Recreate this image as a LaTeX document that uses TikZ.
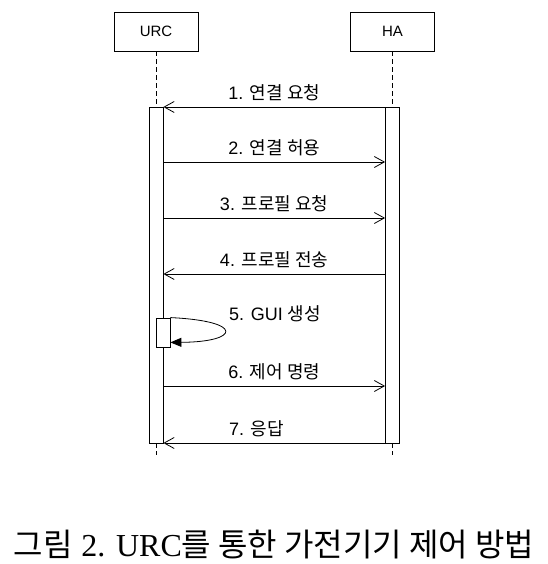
\documentclass[tikz,border=0pt]{standalone}
\usepackage{fontspec}
\setmainfont{Liberation Sans}
\newfontfamily\kr{Noto Sans CJK KR}
\newfontfamily\capserif{Liberation Serif}
\usetikzlibrary{calc, arrows.meta, positioning}

\tikzset{
    actor/.style={draw, minimum width=84pt, minimum height=39pt, line width=0.8pt, font=\fontsize{15}{18}\selectfont},
    bar/.style={draw, fill=white, minimum width=14pt, line width=0.8pt},
    life/.style={line width=0.8pt, dash pattern=on 5pt off 3pt},
    msg/.style={line width=0.8pt, -{Straight Barb[length=10pt,width=11pt]}},
    selfmsg/.style={line width=0.8pt, -{Triangle[length=11pt,width=9pt]}},
    lbl/.style={font=\fontsize{18}{20}\selectfont, inner sep=0pt}
}

\begin{document}
\begin{tikzpicture}[x=1pt, y=1pt]
    \useasboundingbox (0,0) rectangle (547,564);
    \coordinate (urcpos) at (156,532.5);
    \coordinate (hapos) at (392.5,532.5);

    \node[actor] (urc) at (urcpos) {URC};
    \node[actor] (ha) at (hapos) {HA};
    \coordinate (urcend) at (156,109);
    \coordinate (haend) at (392.5,109);

    % lifelines
    \draw[life] (urc.south) -- (urcend);
    \draw[life] (ha.south) -- (haend);

    % activation bars
    \node[bar, minimum height=336pt] (urcbar) at (156,289) {};
    \node[bar, minimum height=336pt] (habar) at (392.5,289) {};
    \node[bar, minimum height=29pt] (self) at (163,231.5) {};

\draw[msg] ($(habar.west) + (0,168)$) -- ($(urcbar.east) + (0,168)$) node[lbl, midway, above=6pt] {1. {\kr 연결 요청}};
\draw[msg] ($(urcbar.east) + (0,113)$) -- ($(habar.west) + (0,113)$) node[lbl, midway, above=6pt] {2. {\kr 연결 허용}};
\draw[msg] ($(urcbar.east) + (0,57)$) -- ($(habar.west) + (0,57)$) node[lbl, midway, above=6pt] {3. {\kr 프로필 요청}};
\draw[msg] ($(habar.west) + (0,1)$) -- ($(urcbar.east) + (0,1)$) node[lbl, midway, above=6pt] {4. {\kr 프로필 전송}};
\draw[selfmsg] (self.north east) .. controls (245,243) and (240,222) .. ($(self.south east) + (0,5)$);
\node[lbl] (l5) at (275,250) {5. GUI {\kr 생성}};
\draw[msg] ($(urcbar.east) + (0,-111)$) -- ($(habar.west) + (0,-111)$) node[lbl, midway, above=6pt] {6. {\kr 제어 명령}};
\draw[msg] ($(habar.west) + (0,-168)$) -- ($(urcbar.east) + (0,-168)$) node[lbl, pos=0.58, above=6pt] {7. {\kr 응답}};

    \node[font=\fontsize{32}{36}\selectfont] (caption) at (274,19) {{\kr 그림} {\capserif 2. URC}{\kr 를 통한 가전기기 제어 방법}};
\end{tikzpicture}
\end{document}
